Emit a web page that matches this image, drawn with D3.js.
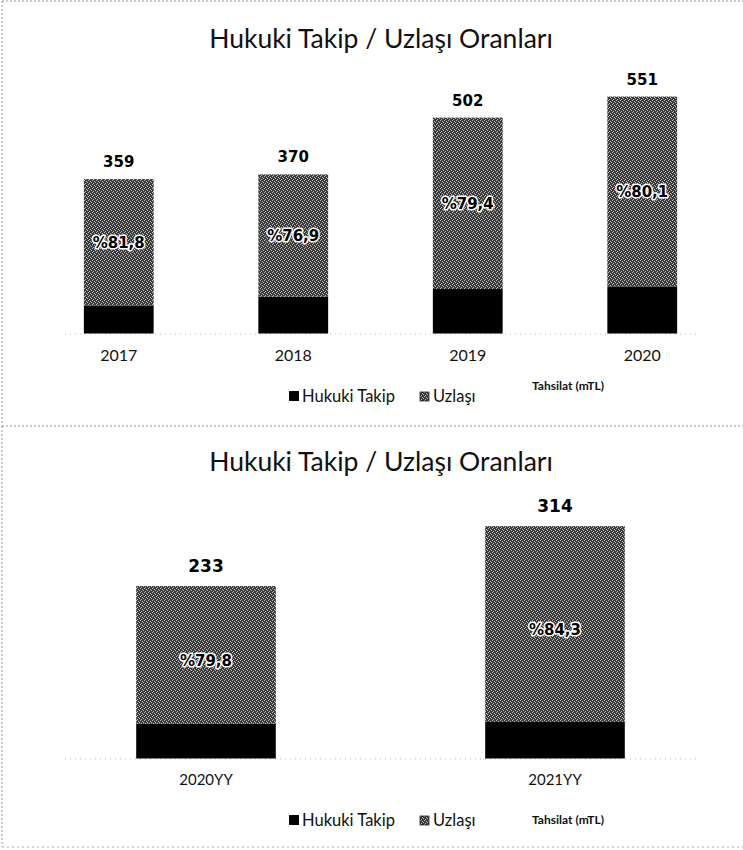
<!DOCTYPE html>
<html>
<head>
<meta charset="utf-8">
<script src="https://cdn.jsdelivr.net/npm/d3@7"></script>
<style>
  body { margin: 0; background: #fff; }
</style>
</head>
<body>
<script>
// yearly collections (mTL) and share of uzlasi (%)
const years = ["2017", "2018", "2019", "2020"];
const tahsilat = [359, 370, 502, 551];
const uzlasiPct = [81.8, 76.9, 79.4, 80.1];

// year to date
const ytdLabels = ["2020YY", "2021YY"];
const ytdTahsilat = [233, 314];
const ytdUzlasiPct = [79.8, 84.3];

const seriesNames = ["Hukuki Takip", "Uzlaşı"];
const title = "Hukuki Takip / Uzlaşı Oranları";
const unitLabel = "Tahsilat (mTL)";

let svg = d3.select("body")
            .append("svg")
            .attr("width", 743)
            .attr("height", 850)
            .attr("font-family", "Lato, 'Open Sans', sans-serif");

// speckled grey fill like the scanned original
let defs = svg.append("defs");
let pat = defs.append("pattern")
            .attr("id", "speckle")
            .attr("patternUnits", "userSpaceOnUse")
            .attr("width", 4)
            .attr("height", 4);
pat.append("rect").attr("width", 4).attr("height", 4).attr("fill", "#3a3a3a");
[[0, 0], [2, 1], [1, 3], [3, 2]].forEach(p => {
    pat.append("rect")
        .attr("x", p[0]).attr("y", p[1])
        .attr("width", 1).attr("height", 1)
        .attr("fill", "#bdbdbd");
});

let fills = ["#000", "url(#speckle)"];
let fmt = v => "%" + d3.format(".1f")(v).replace(".", ",");

// panel frames (dotted, as in the scan)
let frame = (y1, y2) => {
    svg.append("line").attr("x1", 2).attr("y1", y1).attr("x2", 743).attr("y2", y1)
        .attr("stroke", "#999").attr("stroke-dasharray", "2,2");
    svg.append("line").attr("x1", 2).attr("y1", y1).attr("x2", 2).attr("y2", y2)
        .attr("stroke", "#999").attr("stroke-dasharray", "2,2");
};
frame(1, 426);
frame(426, 847);
svg.append("line").attr("x1", 2).attr("y1", 847).attr("x2", 743).attr("y2", 847)
    .attr("stroke", "#aaa").attr("stroke-dasharray", "2,3");

drawPanel = (cfg) => {
    let g = svg.append("g");

    g.append("text")
        .attr("x", 381).attr("y", cfg.titleY)
        .attr("text-anchor", "middle")
        .attr("font-size", 26.5)
        .attr("fill", "#111")
        .text(title);

    let rows = cfg.cats.map((c, i) => ({
        cat: c,
        total: cfg.totals[i],
        pct: cfg.pcts[i],
        "Hukuki Takip": cfg.totals[i] * (100 - cfg.pcts[i]) / 100,
        "Uzlaşı": cfg.totals[i] * cfg.pcts[i] / 100
    }));

    let x = d3.scaleBand().domain(cfg.cats).range([31.5, 729.5]).paddingInner(0.6).paddingOuter(0.3);
    let y = d3.scaleLinear().domain([0, cfg.yMax]).range([cfg.base, cfg.top]);

    // baseline
    g.append("line")
        .attr("x1", 65).attr("x2", 700)
        .attr("y1", cfg.base + 0.5).attr("y2", cfg.base + 0.5)
        .attr("stroke", "#bbb").attr("stroke-dasharray", "1,4");

    let stack = d3.stack().keys(seriesNames)(rows);

    g.selectAll(".layer")
        .data(stack)
        .join("g")
        .attr("fill", (d, i) => fills[i])
        .selectAll("rect")
        .data(d => d)
        .join("rect")
        .attr("x", d => x(d.data.cat))
        .attr("y", d => y(d[1]))
        .attr("width", x.bandwidth())
        .attr("height", d => y(d[0]) - y(d[1]));

    // totals
    g.selectAll(".tot")
        .data(rows)
        .join("text")
        .attr("x", d => x(d.cat) + x.bandwidth() / 2)
        .attr("y", d => y(d.total) - cfg.totGap)
        .attr("text-anchor", "middle")
        .attr("font-family", "'DejaVu Sans'")
        .attr("font-weight", "bold")
        .attr("font-size", cfg.totSize)
        .attr("fill", "#000")
        .text(d => d.total);

    // uzlasi share inside the bar
    let up = stack[1];
    g.selectAll(".pct")
        .data(up)
        .join("text")
        .attr("x", d => x(d.data.cat) + x.bandwidth() / 2)
        .attr("y", d => (y(d[0]) + y(d[1])) / 2 + cfg.pctShift)
        .attr("dy", "0.35em")
        .attr("text-anchor", "middle")
        .attr("font-family", "'DejaVu Sans'")
        .attr("font-weight", "bold")
        .attr("font-size", 15)
        .attr("fill", "#000")
        .attr("stroke", "#fff")
        .attr("stroke-width", 3)
        .attr("stroke-linejoin", "round")
        .attr("paint-order", "stroke")
        .text(d => fmt(d.data.pct));

    // category axis
    let ax = g.append("g")
        .attr("transform", `translate(0,${cfg.base})`)
        .call(d3.axisBottom(x).tickSize(0).tickPadding(cfg.labPad));
    ax.select(".domain").remove();
    ax.selectAll("text")
        .attr("font-family", "Lato")
        .attr("font-size", cfg.labSize)
        .attr("fill", "#111");

    // legend
    let lg = g.append("g").attr("transform", `translate(0,${cfg.legY})`);
    lg.append("rect").attr("x", 289).attr("y", -5).attr("width", 10).attr("height", 10).attr("fill", fills[0]);
    lg.append("text").attr("x", 302).attr("y", 0).attr("dy", "0.35em")
        .attr("font-size", 16.5).attr("fill", "#111").text(seriesNames[0]);
    lg.append("rect").attr("x", 420).attr("y", -4).attr("width", 9).attr("height", 9)
        .attr("fill", "url(#speckle)").attr("stroke", "#222").attr("stroke-width", 0.8);
    lg.append("text").attr("x", 433).attr("y", 0).attr("dy", "0.35em")
        .attr("font-size", 16.5).attr("fill", "#111").text(seriesNames[1]);
    lg.append("text").attr("x", 532).attr("y", cfg.unitDy).attr("dy", "0.35em")
        .attr("font-weight", "bold")
        .attr("font-size", 12).attr("fill", "#111").text(unitLabel);
};

drawPanel({
    cats: years, totals: tahsilat, pcts: uzlasiPct,
    titleY: 48, base: 333.5, top: 75.5, yMax: 600,
    totGap: 12, totSize: 15, pctShift: 0, labPad: 16, labSize: 16,
    legY: 396, unitDy: -10
});

drawPanel({
    cats: ytdLabels, totals: ytdTahsilat, pcts: ytdUzlasiPct,
    titleY: 471, base: 758.5, top: 499.5, yMax: 350,
    totGap: 14, totSize: 17, pctShift: 6, labPad: 16, labSize: 15,
    legY: 820, unitDy: 0
});
</script>
</body>
</html>
